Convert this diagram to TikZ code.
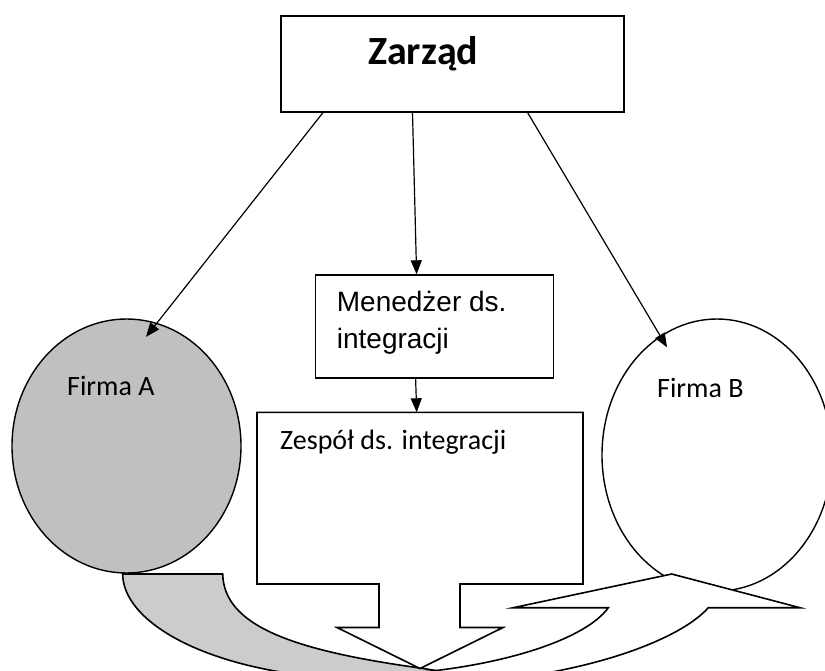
\documentclass[tikz,border=0pt]{standalone}
\usepackage{fontspec}
\newfontfamily\calfont{Carlito}
\newfontfamily\arialfont{Liberation Sans}
\usetikzlibrary{shapes.geometric,arrows.meta,calc}
\definecolor{grayA}{RGB}{192,192,192}
\definecolor{grayband}{RGB}{204,204,204}
\begin{document}
\begin{tikzpicture}[x=1pt,y=-1pt,
  boxshape/.style={draw=black,line width=1.6pt,fill=white,inner sep=0pt,anchor=north west},
  ellshape/.style={ellipse,draw=black,line width=1.4pt,inner sep=0pt},
  conn/.style={line width=1.2pt,-{Triangle[length=14pt,width=11pt]}},
  outline/.style={draw=black,line width=1.6pt,line join=miter},
  lbl/.style={anchor=base west,inner sep=0pt,font=\calfont\fontsize{28}{34}\selectfont},
  albl/.style={anchor=base west,inner sep=0pt,font=\arialfont\fontsize{28}{36}\selectfont},
]
\useasboundingbox (0,0) rectangle (825,670);
\clip (0,0) rectangle (825,670);
\fill[white] (0,0) rectangle (825,670);

% gray curved band from Firma A
\path[outline,fill=grayband] (122.7,574) -- (222.7,574)
  .. controls (224,625) and (290,650) .. (420,668) -- (470,676) -- (470,695) -- (330,678)
  .. controls (200,668) and (122.7,620) .. (122.7,574) -- cycle;

% Firma A
\node[ellshape,fill=grayA,minimum width=229pt,minimum height=254pt] (firmaA) at (126.5,446) {};

% Zespol arrow box
\path[outline,fill=white] (257,412.3) -- (583,412.3) -- (583,584) -- (460,584) -- (460,627.5)
  -- (503,627.5) -- (420,668.5) -- (337,627.5) -- (379,627.5) -- (379,584) -- (257,584) -- cycle;
\node[inner sep=0pt,minimum width=326pt,minimum height=171.7pt,anchor=north west] (zespol) at (257,412.3) {};

% Firma B
\node[ellshape,fill=white,minimum width=230pt,minimum height=272pt] (firmaB) at (717,455) {};

% right curved up arrow
\path[outline,fill=white] (400,674) .. controls (500,667) and (585,640) .. (608.3,607.7)
  -- (513.3,607.7) -- (671.7,574) -- (800,607.7) -- (708.3,607.7)
  .. controls (680,640) and (580,680) .. (430,685) -- cycle;

% boxes
\node[boxshape,minimum width=343pt,minimum height=96pt] (zarzad) at (280,15) {};
\node[boxshape,minimum width=238pt,minimum height=102.6pt] (menedzer) at (314.6,274.3) {};

% texts
\node[lbl,font=\calfont\bfseries\fontsize{40}{48}\selectfont] (zarzadtxt) at (368,64.3) {Zarząd};
\node[albl] (menedzertxtA) at (336.7,311.7) {Menedżer ds.};
\node[albl] (menedzertxtB) at (336.7,348.3) {integracji};
\node[lbl] (firmaAtxt) at (67,395) {Firma A};
\node[lbl] (firmaBtxt) at (657,397) {Firma B};
\node[lbl] (zespoltxt) at (280,449) {Zespół ds. integracji};

% connectors
\draw[conn] ($(zarzad.south west)+(43,0)$) -- ($(firmaA.north)+(19.5,18.6)$);
\draw[conn] ($(zarzad.south west)+(132.5,0)$) -- ($(menedzer.north west)+(102,0)$);
\draw[conn] ($(zarzad.south west)+(247.6,0)$) -- ($(firmaB.north)+(-50,29)$);
\draw[conn] ($(menedzer.south west)+(101,0)$) -- ($(zespol.north west)+(159.7,0)$);
\end{tikzpicture}
\end{document}
